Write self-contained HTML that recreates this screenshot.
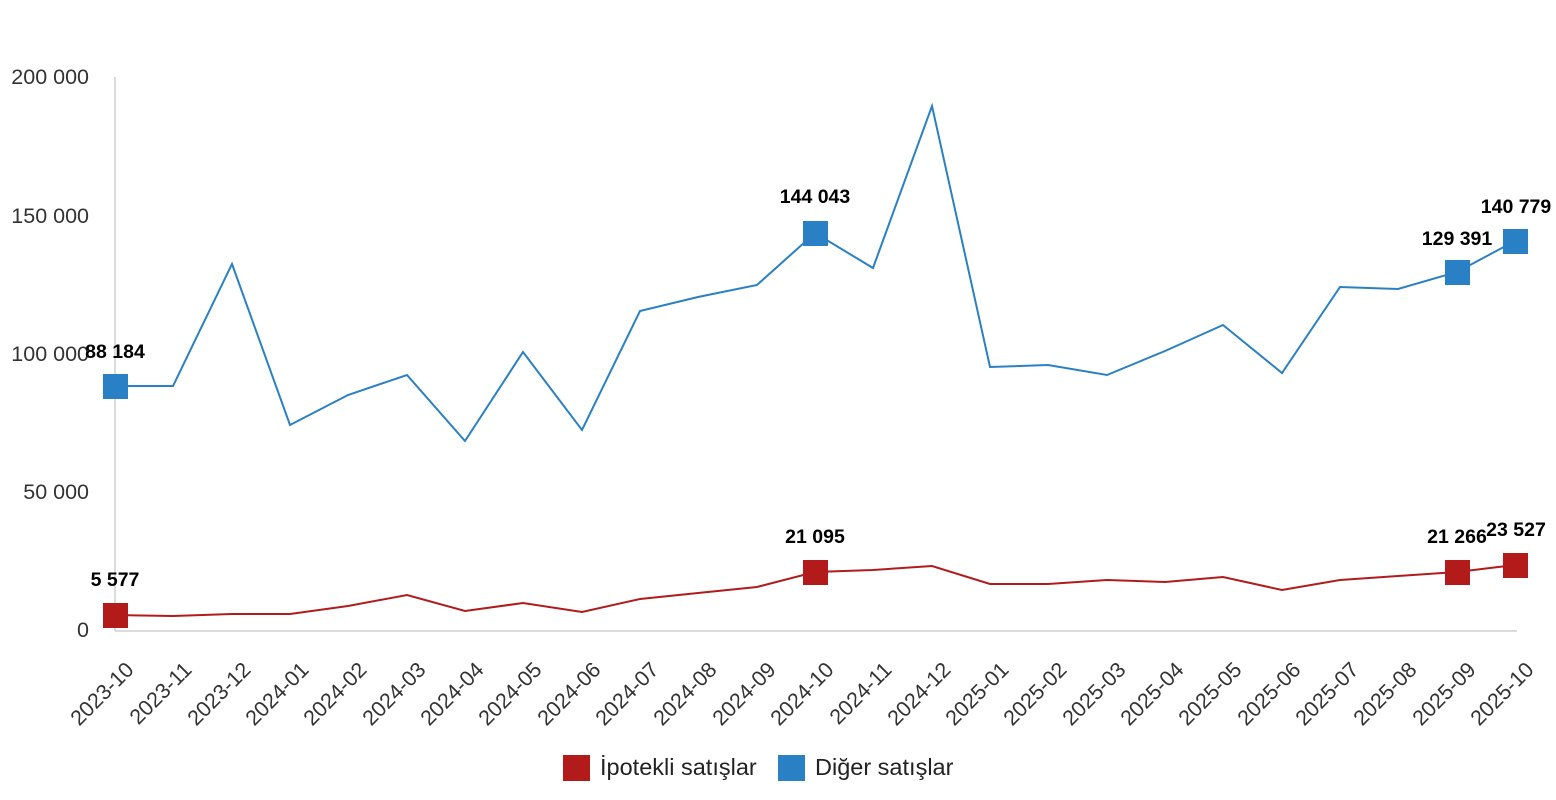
<!DOCTYPE html>
<html><head><meta charset="utf-8"><style>
html,body{margin:0;padding:0;background:#fff;}
svg{display:block;font-family:"Liberation Sans",sans-serif;}
</style></head><body>
<svg width="1556" height="800" viewBox="0 0 1556 800" xmlns="http://www.w3.org/2000/svg">
<line x1="115" y1="77" x2="115" y2="631" stroke="#dcdcdc" stroke-width="2"/>
<line x1="115" y1="631" x2="1517" y2="631" stroke="#dcdcdc" stroke-width="2"/>
<g font-size="21.5" fill="#333" text-anchor="end">
<text x="89" y="84">200 000</text>
<text x="89" y="223">150 000</text>
<text x="89" y="361">100 000</text>
<text x="89" y="499">50 000</text>
<text x="89" y="637">0</text>
</g>
<polyline fill="none" stroke="#2a80c5" stroke-width="2" points="115,386 173,386 232,264 290,425 348,395 407,375 465,441 523,352 582,430 640,311 698,297 757,285 815,233 873,268 932,106 990,367 1048,365 1107,375 1165,351 1223,325 1282,373 1340,287 1398,289 1457,272 1515,241"/>
<polyline fill="none" stroke="#b01c1c" stroke-width="2" points="115,615 173,616 232,614 290,614 348,606 407,595 465,611 523,603 582,612 640,599 698,593 757,587 815,572 873,570 932,566 990,584 1048,584 1107,580 1165,582 1223,577 1282,590 1340,580 1398,576 1457,572 1515,565"/>
<g fill="#2a80c5">
<rect x="103" y="374" width="25" height="25"/>
<rect x="803" y="221" width="25" height="25"/>
<rect x="1445" y="260" width="25" height="25"/>
<rect x="1503" y="229" width="25" height="25"/>
</g>
<g fill="#b31b1b">
<rect x="103" y="603" width="25" height="25"/>
<rect x="803" y="560" width="25" height="25"/>
<rect x="1445" y="560" width="25" height="25"/>
<rect x="1503" y="553" width="25" height="25"/>
</g>
<g font-size="19.5" font-weight="bold" fill="#000" text-anchor="middle">
<text x="115" y="358">88 184</text>
<text x="815" y="203">144 043</text>
<text x="1457" y="245">129 391</text>
<text x="1516" y="213">140 779</text>
<text x="115" y="586">5 577</text>
<text x="815" y="543">21 095</text>
<text x="1457" y="543">21 266</text>
<text x="1516" y="536">23 527</text>
</g>
<rect x="563" y="755" width="27" height="26" fill="#b31b1b"/>
<text x="600" y="775" font-size="23.5" fill="#222">İpotekli satışlar</text>
<rect x="778" y="755" width="27" height="26" fill="#2a80c5"/>
<text x="815" y="775" font-size="23.5" fill="#222">Diğer satışlar</text>
<g font-size="21.5" fill="#333" text-anchor="end">
<text transform="translate(135,671) rotate(-45)">2023-10</text>
<text transform="translate(193,671) rotate(-45)">2023-11</text>
<text transform="translate(252,671) rotate(-45)">2023-12</text>
<text transform="translate(310,671) rotate(-45)">2024-01</text>
<text transform="translate(368,671) rotate(-45)">2024-02</text>
<text transform="translate(427,671) rotate(-45)">2024-03</text>
<text transform="translate(485,671) rotate(-45)">2024-04</text>
<text transform="translate(543,671) rotate(-45)">2024-05</text>
<text transform="translate(602,671) rotate(-45)">2024-06</text>
<text transform="translate(660,671) rotate(-45)">2024-07</text>
<text transform="translate(718,671) rotate(-45)">2024-08</text>
<text transform="translate(777,671) rotate(-45)">2024-09</text>
<text transform="translate(835,671) rotate(-45)">2024-10</text>
<text transform="translate(893,671) rotate(-45)">2024-11</text>
<text transform="translate(952,671) rotate(-45)">2024-12</text>
<text transform="translate(1010,671) rotate(-45)">2025-01</text>
<text transform="translate(1068,671) rotate(-45)">2025-02</text>
<text transform="translate(1127,671) rotate(-45)">2025-03</text>
<text transform="translate(1185,671) rotate(-45)">2025-04</text>
<text transform="translate(1243,671) rotate(-45)">2025-05</text>
<text transform="translate(1302,671) rotate(-45)">2025-06</text>
<text transform="translate(1360,671) rotate(-45)">2025-07</text>
<text transform="translate(1418,671) rotate(-45)">2025-08</text>
<text transform="translate(1477,671) rotate(-45)">2025-09</text>
<text transform="translate(1535,671) rotate(-45)">2025-10</text>
</g>
</svg>
</body></html>
